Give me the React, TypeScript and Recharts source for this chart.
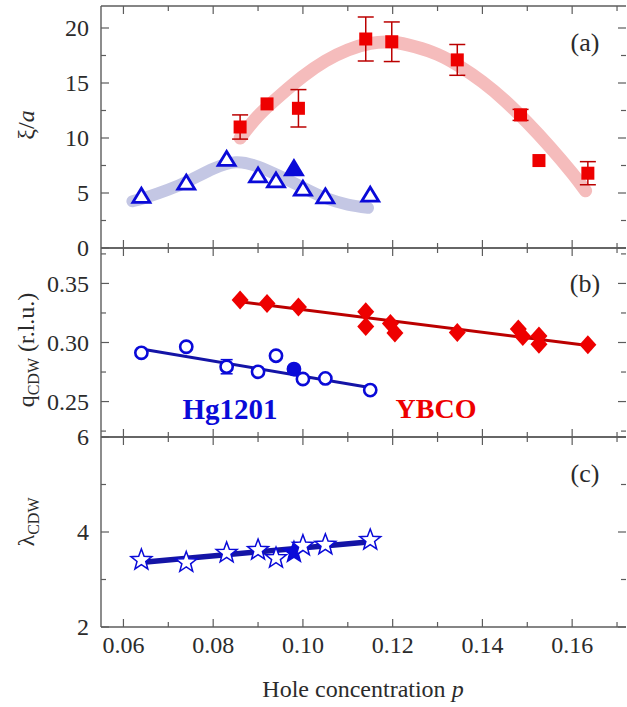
import React from 'react'
import { ComposedChart, ErrorBar, Line, Scatter, XAxis, YAxis } from 'recharts'

// Hg1201 samples, shared by panels (a), (b) and (c)
const P_HG = [0.064, 0.074, 0.083, 0.09, 0.094, 0.098, 0.1, 0.105, 0.115]
const HG_FILLED = [false, false, false, false, false, true, false, false, false]
const XI_HG = [4.7, 5.9, 8.05, 6.55, 6.1, 7.2, 5.35, 4.65, 4.8]
const Q_HG = [0.2913, 0.2964, 0.2795, 0.2752, 0.2888, 0.2775, 0.2691, 0.2696, 0.2597]
const Q_HG_ERR = [0, 0, 0.006, 0, 0, 0, 0, 0, 0]
const LAMBDA_HG = [3.41, 3.36, 3.56, 3.62, 3.45, 3.57, 3.71, 3.73, 3.83]

// YBCO, panel (a)
const P_YBCO_XI = [0.086, 0.092, 0.099, 0.114, 0.1198, 0.1344, 0.1485, 0.1526, 0.1635]
const XI_YBCO = [11.0, 13.1, 12.7, 19.0, 18.75, 17.1, 12.1, 7.95, 6.8]
const XI_YBCO_ERR = [1.1, 0, 1.7, 2.0, 1.8, 1.4, 0.5, 0, 1.05]

// YBCO, panel (b)
const P_YBCO_Q = [0.086, 0.092, 0.099, 0.114, 0.114, 0.1195, 0.1205, 0.1344, 0.148, 0.149, 0.1526, 0.1526, 0.1635]
const Q_YBCO = [0.336, 0.333, 0.33, 0.326, 0.3135, 0.316, 0.308, 0.3085, 0.3115, 0.305, 0.3055, 0.2985, 0.298]

// guides to the eye (thick bands) in (a)
const P_YBCO_GUIDE = [0.086, 0.09, 0.095, 0.1, 0.105, 0.11, 0.115, 0.12, 0.125, 0.13, 0.135, 0.14, 0.145, 0.15, 0.155, 0.16, 0.163]
const XI_YBCO_GUIDE = [10.0, 12.0, 13.9, 15.6, 17.0, 18.0, 18.6, 18.7, 18.3, 17.6, 16.5, 15.1, 13.4, 11.4, 9.2, 6.8, 5.2]
const P_HG_GUIDE = [0.062, 0.065, 0.07, 0.075, 0.08, 0.085, 0.09, 0.095, 0.1, 0.105, 0.11, 0.1145]
const XI_HG_GUIDE = [4.25, 4.6, 5.3, 6.2, 7.2, 7.8, 7.4, 6.5, 5.5, 4.55, 3.95, 3.65]

// linear fits in (b) and (c)
const P_YBCO_FIT = [0.086, 0.1635]
const Q_YBCO_FIT = [0.3345, 0.2975]
const P_HG_FIT = [0.064, 0.1155]
const Q_HG_FIT = [0.2945, 0.2615]
const P_HG_LFIT = [0.065, 0.1145]
const LAMBDA_HG_FIT = [3.37, 3.79]

// axes
const X_DOMAIN = [0.055, 0.172]
const X_TICKS = [0.06, 0.07, 0.08, 0.09, 0.1, 0.11, 0.12, 0.13, 0.14, 0.15, 0.16, 0.17]
const XI_TICKS = [0, 2.5, 5, 7.5, 10, 12.5, 15, 17.5, 20]
const XI_LABELS = [0, 5, 10, 15, 20]
const Q_TICKS = [0.225, 0.25, 0.275, 0.3, 0.325, 0.35, 0.375]
const Q_LABELS = [0.25, 0.3, 0.35]
const L_TICKS = [2, 3, 4, 5, 6]
const L_LABELS = [2, 4, 6]

const RED = '#ee0000'
const DARK_RED = '#bb0000'
const PINK = '#f5bcbc'
const BLUE = '#0a0ad8'
const DARK_BLUE = '#1414a6'
const LAVENDER = '#c4c7e4'
const AXIS = '#5c5c5c'
const TEXT = '#2b2b2b'
const FONT = '"Liberation Serif", "Times New Roman", serif'
const PLOT_W = 525
const CHART_W = 640

const pts = (xs: number[], ys: number[], extra: Record<string, any[]> = {}) =>
  xs.map((x, i) => {
    const p: any = { x, y: ys[i] }
    Object.keys(extra).forEach((k) => (p[k] = extra[k][i]))
    return p
  })

function XTick(props: any) {
  const { x, y, payload, plotH, labels } = props
  const v = payload.value as number
  const major = Math.round(v * 100) % 2 === 0
  const len = major ? 8 : 5
  return (
    <g>
      <line x1={x} y1={y} x2={x} y2={y - len} stroke={AXIS} strokeWidth={1.2} />
      <line x1={x} y1={y - plotH} x2={x} y2={y - plotH + len} stroke={AXIS} strokeWidth={1.2} />
      {labels && major && (
        <text x={x} y={y + 26} textAnchor="middle" fontSize={24} fill={TEXT} fontFamily={FONT}>
          {v.toFixed(2)}
        </text>
      )}
    </g>
  )
}

function YTick(props: any) {
  const { x, y, payload, labels, digits } = props
  const v = payload.value as number
  const major = labels.includes(v)
  const len = major ? 8 : 5
  return (
    <g>
      <line x1={x} y1={y} x2={x + len} y2={y} stroke={AXIS} strokeWidth={1.2} />
      <line x1={x + PLOT_W - len} y1={y} x2={x + PLOT_W} y2={y} stroke={AXIS} strokeWidth={1.2} />
      {major && (
        <text x={x - 12} y={y} dy="0.34em" textAnchor="end" fontSize={24} fill={TEXT} fontFamily={FONT}>
          {v.toFixed(digits)}
        </text>
      )}
    </g>
  )
}

const Square = (p: any) => <rect x={p.cx - 6.5} y={p.cy - 6.5} width={13} height={13} fill={RED} />

const Triangle = (p: any) => (
  <path
    d={`M${p.cx},${p.cy - 8} L${p.cx + 8.5},${p.cy + 6} L${p.cx - 8.5},${p.cy + 6} Z`}
    fill={p.payload.filled ? BLUE : '#fff'}
    stroke={BLUE}
    strokeWidth={2.8}
  />
)

const Diamond = (p: any) => (
  <path d={`M${p.cx},${p.cy - 9.5} L${p.cx + 8.5},${p.cy} L${p.cx},${p.cy + 9.5} L${p.cx - 8.5},${p.cy} Z`} fill={RED} />
)

const Circle = (p: any) => (
  <circle cx={p.cx} cy={p.cy} r={6.1} fill={p.payload.filled ? BLUE : '#fff'} stroke={BLUE} strokeWidth={2.6} />
)

const Star = (p: any) => {
  const d = Array.from({ length: 10 }, (_, i) => {
    const r = i % 2 === 0 ? 11 : 4.6
    const a = -Math.PI / 2 + (i * Math.PI) / 5
    return `${i === 0 ? 'M' : 'L'}${p.cx + r * Math.cos(a)},${p.cy + r * Math.sin(a)}`
  }).join(' ')
  return <path d={d + ' Z'} fill={p.payload.filled ? BLUE : '#fff'} stroke={BLUE} strokeWidth={1.5} />
}

// height/width 0 makes recharts skip the axis, so use 1px
function Axes({ plotH, yDomain, yTicks, yLabels, digits, xLabels }: any) {
  return [
    <XAxis
      key="xb"
      dataKey="x"
      type="number"
      domain={X_DOMAIN}
      ticks={X_TICKS}
      interval={0}
      height={1}
      tickSize={0}
      tickMargin={0}
      tickLine={false}
      axisLine={{ stroke: AXIS, strokeWidth: 1.4 }}
      tick={(t: any) => <XTick {...t} plotH={plotH} labels={xLabels} />}
    />,
    <XAxis
      key="xt"
      xAxisId="top"
      orientation="top"
      type="number"
      domain={X_DOMAIN}
      height={1}
      tick={false}
      tickLine={false}
      axisLine={{ stroke: AXIS, strokeWidth: 1.4 }}
    />,
    <YAxis
      key="y"
      dataKey="y"
      type="number"
      domain={yDomain}
      ticks={yTicks}
      interval={0}
      width={1}
      tickSize={0}
      tickMargin={0}
      tickLine={false}
      axisLine={{ stroke: AXIS, strokeWidth: 1.4 }}
      tick={(t: any) => <YTick {...t} labels={yLabels} digits={digits} />}
    />,
  ]
}

export default function App() {
  const hgXi = pts(P_HG, XI_HG, { filled: HG_FILLED })
  const ybcoXi = pts(P_YBCO_XI, XI_YBCO, { err: XI_YBCO_ERR })
  const hgQ = pts(P_HG, Q_HG, { filled: HG_FILLED, err: Q_HG_ERR })
  const ybcoQ = pts(P_YBCO_Q, Q_YBCO)
  const hgL = pts(P_HG, LAMBDA_HG, { filled: HG_FILLED })

  return (
    <div style={{ position: 'fixed', left: 0, top: 0, width: 627, height: 707, overflow: 'hidden', background: '#fff' }}>
      {/* (a) correlation length */}
      <div style={{ position: 'absolute', left: 0, top: 0 }}>
        <ComposedChart width={CHART_W} height={262} margin={{ top: 5, right: 14, bottom: 13, left: 100 }}>
          {Axes({ plotH: 242, yDomain: [0, 22], yTicks: XI_TICKS, yLabels: XI_LABELS, digits: 0, xLabels: false })}
          <Line data={pts(P_YBCO_GUIDE, XI_YBCO_GUIDE)} dataKey="y" type="natural" stroke={PINK} strokeWidth={13}
            strokeLinecap="round" dot={false} activeDot={false} isAnimationActive={false} />
          <Line data={pts(P_HG_GUIDE, XI_HG_GUIDE)} dataKey="y" type="natural" stroke={LAVENDER} strokeWidth={12}
            strokeLinecap="round" dot={false} activeDot={false} isAnimationActive={false} />
          <Scatter data={ybcoXi} shape={Square} isAnimationActive={false}>
            <ErrorBar dataKey="err" direction="y" width={8} stroke={DARK_RED} strokeWidth={1.5} />
          </Scatter>
          <Scatter data={hgXi} shape={Triangle} isAnimationActive={false} />
        </ComposedChart>
      </div>

      {/* (b) CDW wave vector */}
      <div style={{ position: 'absolute', left: 0, top: 230 }}>
        <ComposedChart width={CHART_W} height={220} margin={{ top: 17, right: 14, bottom: 12, left: 100 }}>
          {Axes({ plotH: 189, yDomain: [0.22, 0.38], yTicks: Q_TICKS, yLabels: Q_LABELS, digits: 2, xLabels: false })}
          <Line data={pts(P_YBCO_FIT, Q_YBCO_FIT)} dataKey="y" type="linear" stroke={DARK_RED} strokeWidth={3}
            dot={false} activeDot={false} isAnimationActive={false} />
          <Scatter data={ybcoQ} shape={Diamond} isAnimationActive={false} />
          <Line data={pts(P_HG_FIT, Q_HG_FIT)} dataKey="y" type="linear" stroke={DARK_BLUE} strokeWidth={3}
            dot={false} activeDot={false} isAnimationActive={false} />
          <Scatter data={hgQ} shape={Circle} isAnimationActive={false}>
            <ErrorBar dataKey="err" direction="y" width={6} stroke={BLUE} strokeWidth={1.5} />
          </Scatter>
        </ComposedChart>
      </div>

      {/* (c) CDW period */}
      <div style={{ position: 'absolute', left: 0, top: 420 }}>
        <ComposedChart width={CHART_W} height={287} margin={{ top: 16, right: 14, bottom: 79, left: 100 }}>
          {Axes({ plotH: 190, yDomain: [2, 6], yTicks: L_TICKS, yLabels: L_LABELS, digits: 0, xLabels: true })}
          <Line data={pts(P_HG_LFIT, LAMBDA_HG_FIT)} dataKey="y" type="linear" stroke={DARK_BLUE} strokeWidth={5.5}
            dot={false} activeDot={false} isAnimationActive={false} />
          <Scatter data={hgL} shape={Star} isAnimationActive={false} />
        </ComposedChart>
      </div>

      {/* titles and annotations */}
      <svg width={627} height={707} style={{ position: 'absolute', left: 0, top: 0, pointerEvents: 'none' }}
        fontFamily={FONT} fill={TEXT}>
        <text transform="translate(34,125) rotate(-90)" textAnchor="middle" fontSize={24}>
          ξ/<tspan fontStyle="italic">a</tspan>
        </text>
        <text transform="translate(34,350) rotate(-90)" textAnchor="middle" fontSize={24}>
          q<tspan fontSize={16} dy={5}>CDW</tspan>
          <tspan dy={-5}> (r.l.u.)</tspan>
        </text>
        <text transform="translate(34,522) rotate(-90)" textAnchor="middle" fontSize={24}>
          λ<tspan fontSize={16} dy={5}>CDW</tspan>
        </text>
        <text x={363} y={697} textAnchor="middle" fontSize={24}>
          Hole concentration <tspan fontStyle="italic">p</tspan>
        </text>
        <text x={585} y={51} textAnchor="middle" fontSize={26}>(a)</text>
        <text x={585} y={292} textAnchor="middle" fontSize={26}>(b)</text>
        <text x={585} y={482} textAnchor="middle" fontSize={26}>(c)</text>
        <text x={230} y={419} textAnchor="middle" fontSize={29} fontWeight="bold" fill={BLUE}>Hg1201</text>
        <text x={436} y={418} textAnchor="middle" fontSize={28} fontWeight="bold" fill={RED}>YBCO</text>
      </svg>
    </div>
  )
}
